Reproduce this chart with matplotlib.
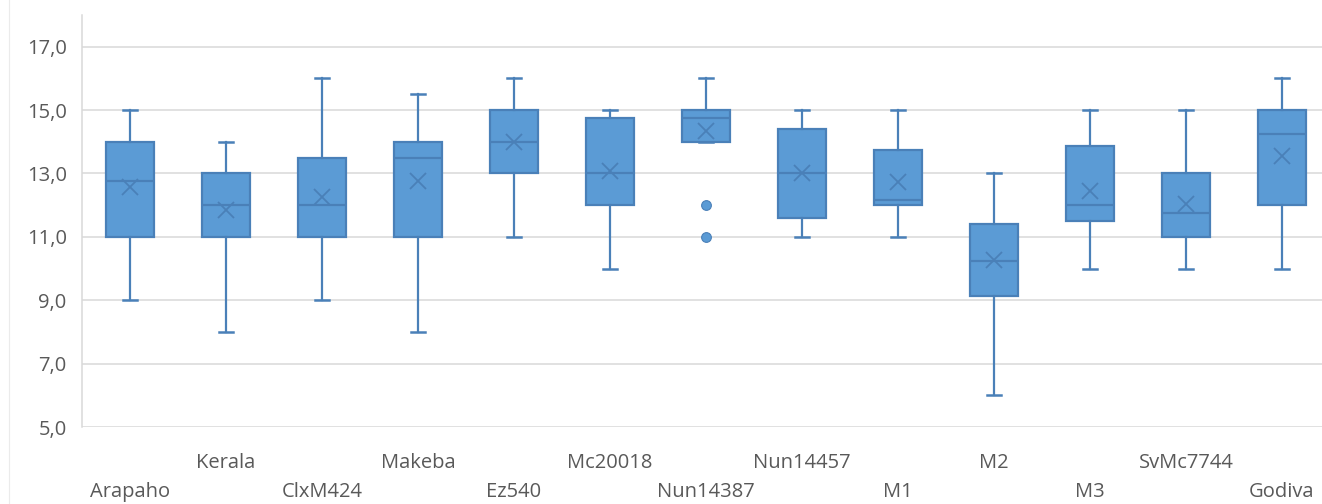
import matplotlib
matplotlib.use("Agg")
import matplotlib.pyplot as plt
from matplotlib.ticker import FuncFormatter
from matplotlib.lines import Line2D

categories = ["Arapaho", "Kerala", "ClxM424", "Makeba", "Ez540", "Mc20018", "Nun14387",
              "Nun14457", "M1", "M2", "M3", "SvMc7744", "Godiva"]
whisker_low = [9.0, 8.0, 9.0, 8.0, 11.0, 10.0, 14.0, 11.0, 11.0, 6.0, 10.0, 10.0, 10.0]
q1 = [11.0, 11.0, 11.0, 11.0, 13.0, 12.0, 14.0, 11.6, 12.0, 9.13, 11.5, 11.0, 12.0]
median = [12.75, 12.0, 12.0, 13.5, 14.0, 13.0, 14.75, 13.0, 12.17, 10.25, 12.0, 11.75, 14.25]
q3 = [14.0, 13.0, 13.5, 14.0, 15.0, 14.75, 15.0, 14.4, 13.75, 11.4, 13.88, 13.0, 15.0]
whisker_high = [15.0, 14.0, 16.0, 15.5, 16.0, 15.0, 16.0, 15.0, 15.0, 13.0, 15.0, 15.0, 16.0]
mean = [12.57, 11.86, 12.25, 12.75, 14.0, 13.08, 14.33, 13.0, 12.72, 10.27, 12.45, 12.04, 13.54]
outliers = [[], [], [], [], [], [], [12.0, 11.0], [], [], [], [], [], []]
y_ticks = [5, 7, 9, 11, 13, 15, 17]

plt.rcParams['font.family'] = ['Open Sans', 'DejaVu Sans']

fig = plt.figure(figsize=(13.22, 5.04), dpi=100)
ax = fig.add_axes([82 / 1322, 1 - 427 / 504, 1248 / 1322, (427 - 15) / 504])

stats = []
for i, name in enumerate(categories):
    stats.append(dict(label=name, med=median[i], q1=q1[i], q3=q3[i],
                      whislo=whisker_low[i], whishi=whisker_high[i],
                      mean=mean[i], fliers=outliers[i]))

box_face = "#5B9BD5"
edge = "#4A80B8"
ax.bxp(stats, positions=range(len(categories)), widths=0.51, capwidths=0.14,
       showmeans=True, patch_artist=True, manage_ticks=False,
       boxprops=dict(facecolor=box_face, edgecolor=edge, linewidth=1.6),
       medianprops=dict(color=edge, linewidth=1.6),
       whiskerprops=dict(color=edge, linewidth=1.6),
       capprops=dict(color=edge, linewidth=1.8),
       meanprops=dict(marker='x', markeredgecolor=edge, markersize=11, markeredgewidth=1.3),
       flierprops=dict(marker='o', markerfacecolor=box_face, markeredgecolor=edge,
                       markersize=7, markeredgewidth=0.8))

ax.set_xlim(-0.5, len(categories) - 0.5)
ax.set_ylim(5, 18)
ax.set_yticks(y_ticks)
ax.yaxis.set_major_formatter(FuncFormatter(lambda v, p: f"{v:.1f}".replace('.', ',')))
ax.grid(axis='y', color='#D9D9D9', linewidth=1.1, zorder=0)
ax.set_axisbelow(True)
for s in ['top', 'right', 'bottom']:
    ax.spines[s].set_visible(False)
ax.spines['left'].set_color('#D9D9D9')
ax.spines['left'].set_linewidth(1.1)

ax.set_xticks(range(len(categories)))
ax.set_xticklabels(categories)
ax.tick_params(axis='both', length=0, labelsize=14.5, labelcolor='#595959')
ax.tick_params(axis='y', pad=11)
for i, t in enumerate(ax.xaxis.get_major_ticks()):
    t.set_pad(39.5 if i % 2 == 0 else 18.5)

# faint outer chart border on the left
fig.add_artist(Line2D([9 / 1322, 9 / 1322], [0, 1], color='#EBEBEB', linewidth=0.8))

fig.savefig("out.png", dpi=100)
